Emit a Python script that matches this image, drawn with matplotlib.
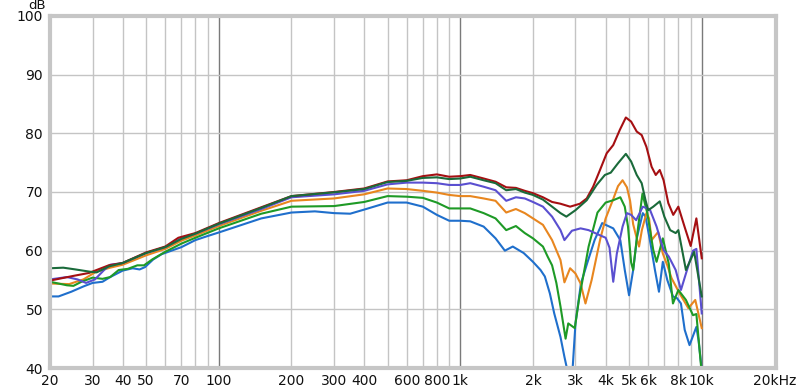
import numpy as np
import matplotlib.pyplot as plt

# frequency response curves (Hz, dB)
f_blue = [20, 21.7, 24.5, 27.5, 30, 33, 35.5, 40, 44, 47, 49.5, 53.5, 58, 70, 80, 90, 100, 150, 200, 250,
          300, 350, 400, 500, 600, 700, 800, 900, 1000, 1100, 1250, 1400, 1530, 1650, 1830, 2000, 2150, 2240,
          2350, 2450, 2600, 2700, 2780, 2850, 2920, 3000, 3160, 3350, 3600, 3870, 4000, 4300, 4600, 4800,
          5000, 5200, 5400, 5700, 5850, 6100, 6400, 6650, 6900, 7200, 7600, 7900, 8200, 8500, 8900, 9500,
          9700, 10000]
db_blue = [52.2, 52.2, 53.0, 53.9, 54.5, 54.7, 55.5, 56.6, 57.0, 56.8, 57.2, 58.5, 59.4, 60.6, 61.8, 62.5,
           63.1, 65.5, 66.5, 66.7, 66.4, 66.3, 67.0, 68.2, 68.2, 67.5, 66.1, 65.1, 65.1, 65.0, 64.1, 62.1,
           60.0, 60.7, 59.6, 58.1, 56.7, 55.6, 52.7, 49.3, 45.3, 41.9, 39.5, 36.5, 40.0, 47.6, 54.4, 57.8,
           61.8, 64.7, 64.4, 63.8, 61.8, 56.7, 52.4, 56.7, 62.4, 66.4, 65.8, 61.8, 56.7, 53.0, 58.1, 55.0,
           52.2, 51.9, 51.0, 46.5, 43.9, 47.0, 44.7, 39.7]

f_orange = [20, 24, 27.5, 31, 35.5, 40, 50, 60, 70, 80, 100, 150, 200, 300, 400, 500, 600, 700, 800, 900,
            1000, 1100, 1250, 1400, 1550, 1700, 1850, 2000, 2200, 2400, 2600, 2700, 2850, 3000, 3150, 3300,
            3500, 3800, 4000, 4300, 4500, 4700, 4900, 5050, 5200, 5350, 5500, 5650, 5900, 6050, 6200, 6600,
            6900, 7200, 7500, 8100, 8800, 9400, 10000]
db_orange = [54.4, 54.3, 55.1, 56.4, 57.1, 57.6, 59.2, 60.3, 61.7, 62.6, 64.2, 66.8, 68.5, 68.9, 69.6, 70.6,
             70.5, 70.2, 69.9, 69.5, 69.3, 69.3, 68.9, 68.5, 66.5, 67.1, 66.4, 65.5, 64.4, 61.8, 58.4, 54.6,
             57.0, 56.1, 54.4, 51.0, 55.0, 62.0, 65.5, 68.8, 71.0, 72.0, 70.8, 68.5, 64.5, 62.5, 60.7, 63.5,
             66.4, 65.5, 61.8, 63.2, 59.5, 57.5, 55.3, 52.7, 50.2, 51.6, 46.8]

f_green = [20, 23.5, 25, 27, 30, 33, 35.5, 38.5, 42, 46, 49, 53, 60, 70, 80, 100, 150, 200, 300, 400, 500,
           600, 700, 800, 900, 1000, 1100, 1250, 1400, 1550, 1700, 1850, 2000, 2200, 2300, 2400, 2500, 2600,
           2730, 2800, 2980, 3100, 3400, 3700, 4000, 4300, 4600, 4800, 4950, 5100, 5200, 5450, 5680, 5950,
           6300, 6500, 6900, 7300, 7600, 8000, 8600, 9200, 9500, 10000]
db_green = [54.7, 54.1, 54.0, 54.7, 55.4, 55.2, 55.5, 56.7, 56.9, 57.5, 57.5, 58.5, 59.8, 61.2, 62.2, 63.8,
            66.3, 67.5, 67.6, 68.3, 69.3, 69.2, 69.0, 68.2, 67.2, 67.2, 67.2, 66.4, 65.5, 63.5, 64.2, 63.0,
            62.1, 60.7, 59.0, 57.5, 54.5, 50.5, 45.0, 47.6, 46.8, 51.6, 60.7, 66.5, 68.2, 68.6, 69.1, 67.5,
            64.1, 58.0, 56.7, 64.0, 69.7, 66.4, 60.1, 58.1, 62.1, 57.8, 51.0, 53.3, 51.6, 49.0, 49.2, 39.0]

f_purple = [20, 23.5, 26, 28.2, 30.7, 33.5, 35.5, 38.5, 40, 50, 60, 70, 80, 100, 150, 200, 300, 400, 500,
            600, 700, 800, 900, 1000, 1100, 1250, 1400, 1550, 1700, 1850, 2000, 2200, 2400, 2600, 2700, 2900,
            3150, 3400, 3800, 4000, 4150, 4300, 4450, 4700, 4900, 5100, 5350, 5700, 6100, 6500, 6950, 7300,
            7800, 8200, 8600, 9200, 9500, 10000]
db_purple = [55.1, 55.5, 55.1, 54.5, 55.1, 56.7, 57.6, 57.8, 57.9, 59.6, 60.6, 62.1, 62.9, 64.5, 67.1, 69.1,
             69.6, 70.2, 71.3, 71.6, 71.6, 71.5, 71.2, 71.2, 71.5, 70.9, 70.3, 68.5, 69.1, 68.9, 68.3, 67.5,
             65.8, 63.5, 61.8, 63.4, 63.8, 63.5, 62.6, 62.2, 60.5, 54.7, 59.5, 64.1, 66.4, 66.1, 65.2, 67.5,
             67.0, 64.1, 60.1, 59.0, 56.7, 53.3, 56.1, 60.0, 60.3, 49.3]

f_red = [20, 25, 29, 35, 40, 50, 60, 68, 80, 100, 150, 200, 300, 400, 500, 600, 700, 800, 900, 1000, 1100,
         1250, 1400, 1550, 1700, 1850, 2000, 2200, 2400, 2600, 2850, 3130, 3340, 3550, 3790, 4040, 4300, 4580,
         4850, 5100, 5380, 5640, 5900, 6200, 6450, 6700, 6950, 7270, 7620, 8000, 8500, 9000, 9500, 10000]
db_red = [54.9, 55.7, 56.2, 57.5, 57.9, 59.7, 60.7, 62.2, 63.0, 64.7, 67.4, 69.3, 70.0, 70.6, 71.8, 72.0, 72.7,
          73.0, 72.6, 72.7, 72.9, 72.3, 71.75, 70.8, 70.7, 70.2, 69.8, 69.1, 68.3, 68.0, 67.5, 68.0, 68.9,
          70.9, 73.75, 76.6, 78.0, 80.6, 82.7, 82.0, 80.3, 79.7, 77.7, 74.3, 72.9, 73.75, 72.0, 68.1, 66.1,
          67.5, 64.0, 60.8, 65.5, 58.7]

f_dkgreen = [20, 22.7, 25.5, 29.4, 31.2, 35, 40, 50, 60, 70, 80, 100, 150, 200, 300, 400, 500, 600, 700, 800,
             900, 1000, 1100, 1250, 1400, 1550, 1700, 1850, 2000, 2200, 2400, 2600, 2750, 3000, 3340, 3670,
             3970, 4200, 4500, 4850, 5100, 5380, 5640, 5850, 6000, 6300, 6700, 7000, 7400, 7800, 8000, 8600,
             9300, 10000]
db_dkgreen = [57.0, 57.1, 56.8, 56.4, 56.3, 57.3, 57.9, 59.6, 60.6, 62.0, 62.9, 64.6, 67.3, 69.3, 69.95, 70.5,
              71.7, 71.9, 72.4, 72.5, 72.2, 72.3, 72.6, 72.0, 71.5, 70.3, 70.5, 69.9, 69.5, 68.7, 67.5, 66.4,
              65.8, 66.9, 68.6, 71.2, 72.9, 73.3, 74.9, 76.5, 75.2, 72.9, 71.5, 68.6, 66.9, 67.5, 68.4, 65.8,
              63.5, 63.0, 63.5, 56.7, 59.8, 52.2]

xticks = [20, 30, 40, 50, 70, 100, 200, 300, 400, 600, 800, 1000, 2000, 3000, 4000, 5000, 6000, 8000, 10000, 20000]
xlabels = ['20', '30', '40', '50', '70', '100', '200', '300', '400', '600', '800', '1k', '2k', '3k', '4k',
           '5k', '6k', '8k', '10k', '20kHz']
yticks = [40, 50, 60, 70, 80, 90, 100]

fig = plt.figure(figsize=(8, 3.9), dpi=100, facecolor='white')
ax = fig.add_axes([0.0625, 0.0564, 0.9075, 0.9026])
ax.set_xscale('log')
ax.set_xlim(20, 20300)
ax.set_ylim(40, 100)

# grid: every 10/100/1000 up to 10k, darker decades
grid_f = [m * d for d in (10, 100, 1000) for m in range(2, 10)] + [100, 1000, 10000]
for g in grid_f:
    dark = g in (100, 1000, 10000)
    ax.axvline(g, color='#7a7a7a' if dark else '#c4c4c4', lw=1.0, zorder=1)
for y in yticks[1:-1]:
    ax.axhline(y, color='#c4c4c4', lw=1.0, zorder=1)

lw = 1.5
ax.plot(f_blue, db_blue, color='#1f6fcc', lw=lw, zorder=3)
ax.plot(f_orange, db_orange, color='#e8861f', lw=lw, zorder=3)
ax.plot(f_green, db_green, color='#1e9a26', lw=lw, zorder=3)
ax.plot(f_purple, db_purple, color='#5a4fd0', lw=lw, zorder=3)
ax.plot(f_red, db_red, color='#a50f12', lw=lw, zorder=3)
ax.plot(f_dkgreen, db_dkgreen, color='#1a6a3a', lw=lw, zorder=3)

ax.set_xticks(xticks)
ax.set_xticklabels(xlabels)
ax.xaxis.set_minor_locator(plt.NullLocator())
ax.set_yticks(yticks)
ax.tick_params(length=0, labelsize=10, pad=4, colors='#111111')
ax.tick_params(axis='y', pad=5)

for s in ax.spines.values():
    s.set_color('#c6c6c6')
    s.set_linewidth(3)
    s.set_zorder(5)

fig.text(0.046, 1.003, 'dB', fontsize=9.5, ha='center', va='top', color='#111111')

fig.savefig('out.png', dpi=100, facecolor='white')
